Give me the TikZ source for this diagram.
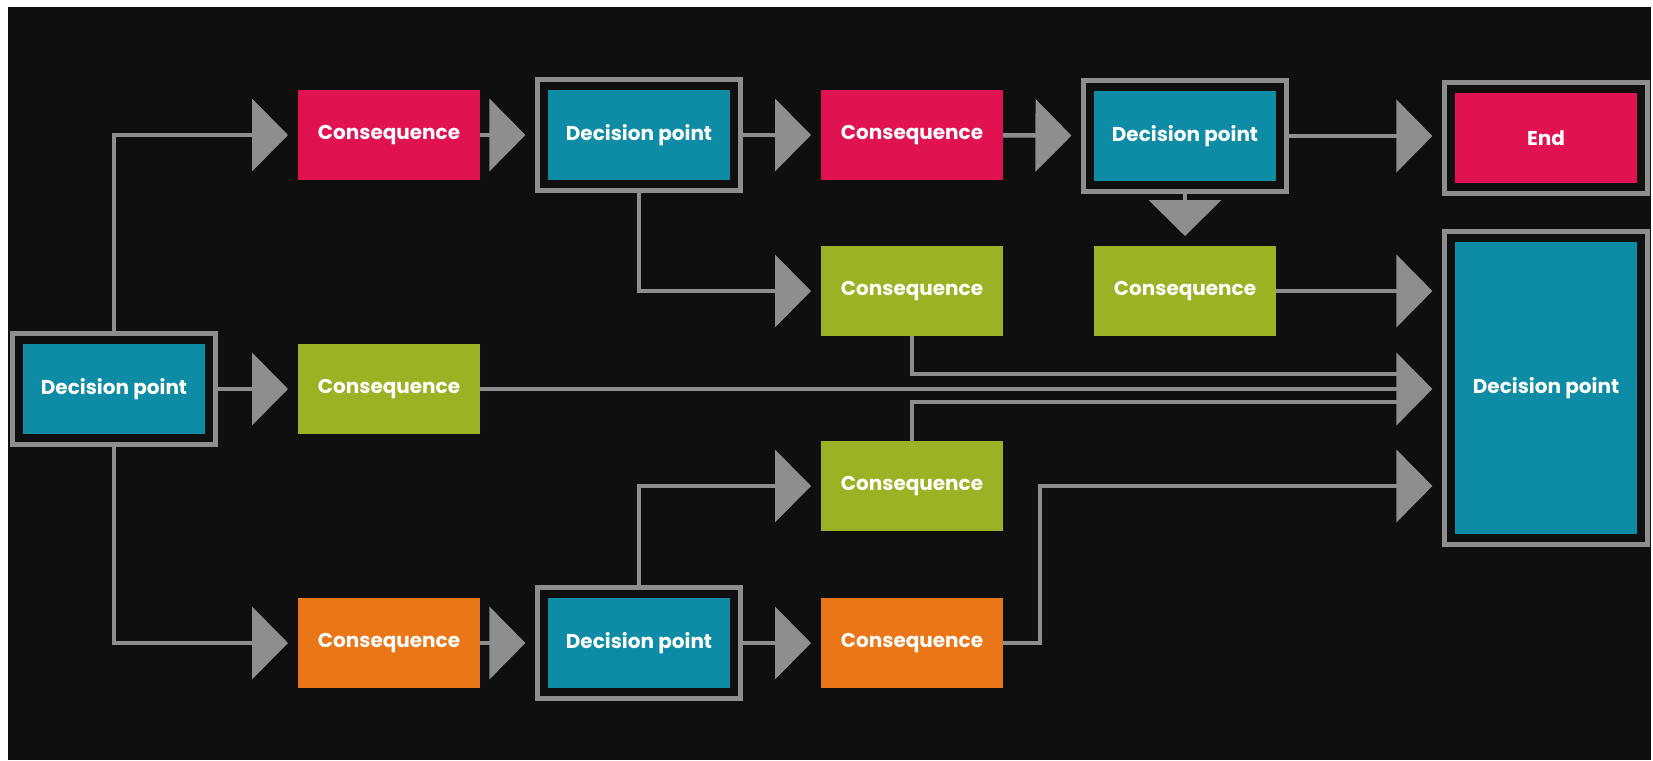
\documentclass[tikz,border=0pt]{standalone}
\usepackage{fontspec}
\setmainfont{Poppins}
\usetikzlibrary{arrows.meta,fit}
\definecolor{bgblack}{HTML}{0F0F0F}
\definecolor{linegray}{HTML}{8E8E8E}
\definecolor{petrol}{HTML}{0E8CA5}
\definecolor{crimson}{HTML}{E0124F}
\definecolor{olive}{HTML}{9BB224}
\definecolor{amber}{HTML}{EA7617}
\begin{document}
\begin{tikzpicture}[x=0.5pt,y=-0.5pt,
  box/.style={minimum width=91pt,minimum height=45pt,inner sep=0pt,outer sep=0pt,text=white,font=\fontsize{10}{12}\selectfont\bfseries},
  redbox/.style={box,fill=crimson},
  greenbox/.style={box,fill=olive},
  orangebox/.style={box,fill=amber},
  dpbox/.style={box,fill=petrol},
  dpframe/.style={draw=linegray,line width=2.2pt,inner sep=5.2pt},
  arr/.style={draw=linegray,line width=2.2pt,shorten >=5pt,-{Triangle[length=18pt,width=36pt]}},
  feed/.style={draw=linegray,line width=2.2pt,shorten >=22pt}]
\useasboundingbox (0,0) rectangle (1653,760);
\fill[white] (0,0) rectangle (1653,760);
\fill[bgblack] (8,7) rectangle (1651,760);

\node[dpbox] (dp1) at (114,389) {Decision point};
\node[redbox] (c1) at (389,135) {Consequence};
\node[greenbox] (c5) at (389,389) {Consequence};
\node[orangebox] (c7) at (389,643) {Consequence};
\node[dpbox] (dp2) at (639,135) {Decision point};
\node[dpbox] (dp4) at (639,643) {Decision point};
\node[redbox] (c2) at (912,135) {Consequence};
\node[greenbox] (c3) at (912,291) {Consequence};
\node[greenbox] (c6) at (912,486) {Consequence};
\node[orangebox] (c8) at (912,643) {Consequence};
\node[dpbox] (dp3) at (1185,136) {Decision point};
\node[greenbox] (c4) at (1185,291) {Consequence};
\node[redbox] (fin) at (1546,138) {End};
\node[dpbox,minimum height=146pt] (dp5) at (1546,388) {Decision point};

\node[dpframe,fit=(dp1)] (dp1f) {};
\node[dpframe,fit=(dp2)] (dp2f) {};
\node[dpframe,fit=(dp3)] (dp3f) {};
\node[dpframe,fit=(dp4)] (dp4f) {};
\node[dpframe,fit=(dp5)] (dp5f) {};
\node[dpframe,fit=(fin)] (finf) {};
\coordinate (bend) at (1040,643);

\draw[arr] (dp1f.north) |- (c1.west);
\draw[arr] (c1) -- (dp2f);
\draw[arr] (dp2f) -- (c2);
\draw[arr] (c2) -- (dp3f);
\draw[arr] (dp3f.east) -- (dp3f.east -| finf.west);
\draw[arr] (dp3f) -- (c4);
\draw[arr] (dp2f.south) |- (c3.west);
\draw[arr] (c4.east) -- (c4.east -| dp5f.west);
\draw[arr] (dp1f) -- (c5);
\draw[feed] (c3.south) |- ([yshift=7pt]dp5f.west);
\draw[arr] (c5.east) -- (c5.east -| dp5f.west);
\draw[feed] (c6.north) |- ([yshift=-7pt]dp5f.west);
\draw[arr] (dp1f.south) |- (c7.west);
\draw[arr] (c7) -- (dp4f);
\draw[arr] (dp4f) -- (c8);
\draw[arr] (dp4f.north) |- (c6.west);
\draw[arr] (c8.east) -- (bend) |- (dp5f.west |- c6);
\end{tikzpicture}
\end{document}
